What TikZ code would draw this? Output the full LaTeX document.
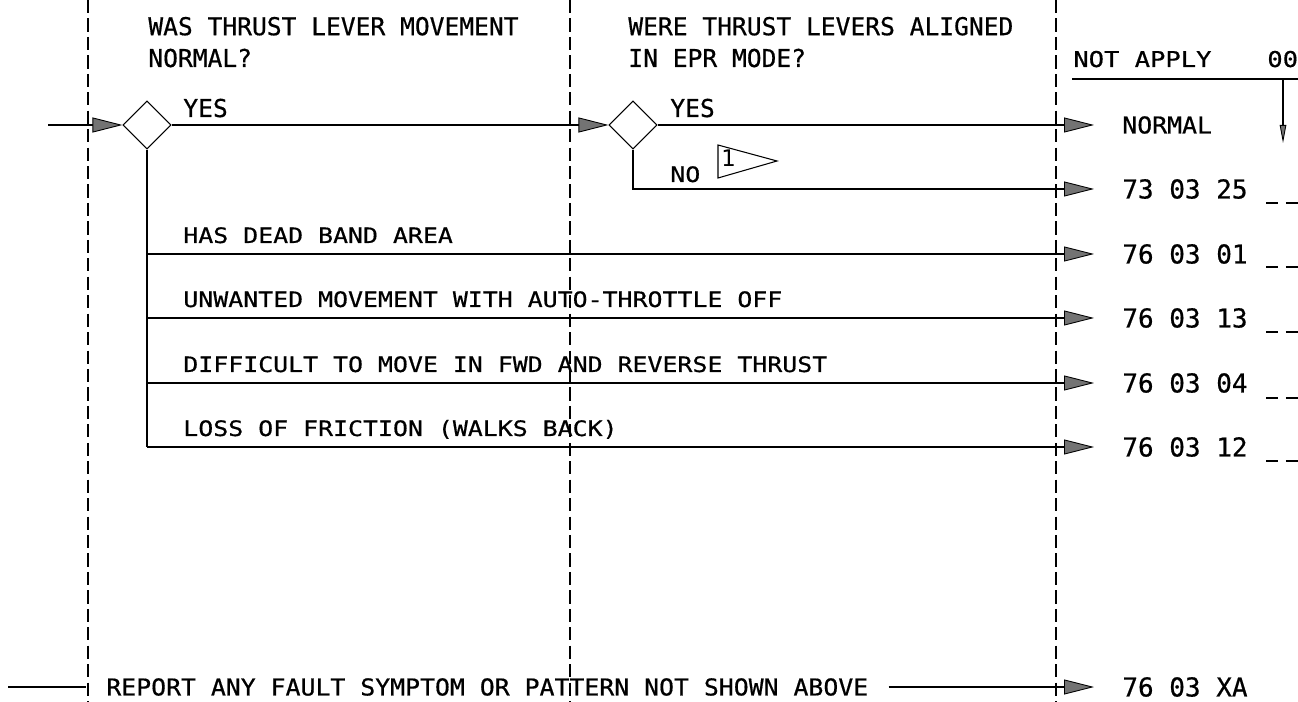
\documentclass[tikz,border=0pt]{standalone}
\usepackage{fontspec}
\usepackage{tikz}
\usetikzlibrary{arrows.meta,positioning,shapes.geometric}
\newfontfamily\cadfont{DejaVu Sans Mono}[FakeBold=0.6]
\newfontfamily\cadwide{DejaVu Sans Mono}[FakeStretch=1.17, FakeBold=0.6]
\newfontfamily\cadmid{DejaVu Sans Mono}[FakeStretch=1.07, FakeBold=0.6]
\newfontfamily\flagfont{DejaVu Sans}

\begin{document}
\begin{tikzpicture}[
  x=0.02cm, y=-0.02cm,
  link/.style={line width=0.6pt, color=black},
  arr/.style={link, -{Triangle[length=0.6cm, width=0.3cm, fill=black!55, line width=0.5pt]}},
  thinarr/.style={link, -{Triangle[length=0.36cm, width=0.13cm, fill=black!55, line width=0.5pt]}},
  guide/.style={line width=0.6pt, dash pattern=on 7.5pt off 3pt},
  blank/.style={line width=0.6pt, dash pattern=on 6.8pt off 4.5pt},
  dec/.style={diamond, draw, aspect=1, minimum size=0.96cm, inner sep=0pt, line width=0.6pt},
  head/.style={anchor=base west, inner sep=0pt, align=left,
    font=\cadfont\fontsize{14}{18.1}\selectfont},
  lbl/.style={anchor=base west, inner sep=0pt, font=\cadwide\fontsize{12.1}{14}\selectfont},
  colhead/.style={anchor=base west, inner sep=0pt, font=\cadwide\fontsize{12.4}{14}\selectfont},
  code/.style={anchor=west, inner xsep=0.56cm, inner ysep=0pt,
    font=\cadfont\fontsize{14.8}{16}\selectfont},
  report/.style={anchor=west, inner xsep=0.4cm, inner ysep=0pt,
    font=\cadmid\fontsize{13.2}{15}\selectfont},
]
  \useasboundingbox (0,0) rectangle (1298,702);

  % column guides
  \foreach \x in {88,570,1056}
    \draw[guide] (\x,0) -- (\x,702);

  % questions (base is the last line)
  \node[head] (q1) at (148,67) {WAS THRUST LEVER MOVEMENT\\NORMAL?};
  \node[head] (q2) at (628,67) {WERE THRUST LEVERS ALIGNED\\IN EPR MODE?};
  \node[colhead] (na) at (1073,67) {NOT APPLY};
  \node[colhead] (oo) at (1267,67) {00};
  \coordinate (ulw) at (1072,79);
  \coordinate (ule) at (1298,79);
  \draw[link] (ulw) -- (ule);
  \coordinate (dtop) at (1283,79);
  \coordinate (dtip) at (1283,143);
  \draw[thinarr] (dtop) -- (dtip);

  % decisions
  \coordinate (in) at (48,125);
  \node[dec] (d1) at (147,125) {};
  \node[dec] (d2) at (633,125) {};
  \node[head] at (183,117) {YES};
  \node[head] at (670,117) {YES};
  \node[lbl] at (670,182) {NO};
  \draw[link] (718,145) -- (777,161) -- (718,178) -- cycle;
  \node[anchor=base west, inner sep=0pt, font=\flagfont\fontsize{13}{15}\selectfont] at (721,167) {1};

  % results
  \node[code, font=\cadmid\fontsize{13.2}{15}\selectfont] (nrm) at (1094,125) {NORMAL};
  \node[code] (c25) at (1094,189) {73 03 25};
  \node[code] (c01) at (1094,254) {76 03 01};
  \node[code] (c13) at (1094,318) {76 03 13};
  \node[code] (c04) at (1094,383) {76 03 04};
  \node[code] (c12) at (1094,447) {76 03 12};
  \node[code] (cxa) at (1094,687) {76 03 XA};
  \foreach \y in {203,267,332,398,461}
    \draw[blank] (1266,\y) -- (1298,\y);

  % symptoms
  \node[lbl] at (183,243) {HAS DEAD BAND AREA};
  \node[lbl] at (183,307) {UNWANTED MOVEMENT WITH AUTO-THROTTLE OFF};
  \node[lbl] at (183,372) {DIFFICULT TO MOVE IN FWD AND REVERSE THRUST};
  \node[lbl] at (183,436) {LOSS OF FRICTION (WALKS BACK)};

  \draw[arr] (in) -- (d1.west);
  \draw[arr] (d1.east) -- (d2.west);
  \draw[arr] (d2.east) -- (nrm.west);
  \draw[arr] (d2.south) |- (c25.west);
  \draw[link] (d1.south) -- (d1.south |- c12.west);
  \foreach \n in {c01,c13,c04,c12}
    \draw[arr] (d1.south |- \n.west) -- (\n.west);

  % catch-all
  \coordinate (rin) at (8,687);
  \node[report] (rep) at (86,687) {REPORT ANY FAULT SYMPTOM OR PATTERN NOT SHOWN ABOVE};
  \draw[link] (rin) -- (rep.west);
  \draw[arr] (rep.east) -- (cxa.west);
\end{tikzpicture}
\end{document}
